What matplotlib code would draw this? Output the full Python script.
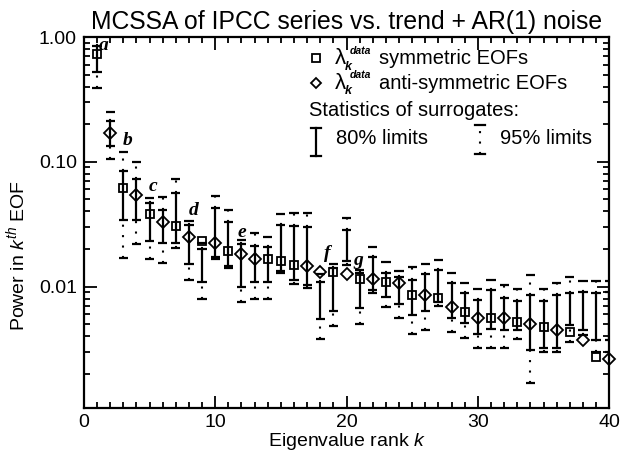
import numpy as np
import matplotlib
matplotlib.use('Agg')
import matplotlib.pyplot as plt
from matplotlib.ticker import MultipleLocator, LogLocator, FuncFormatter, NullFormatter

plt.rcParams['font.family'] = ['Liberation Sans', 'DejaVu Sans']
plt.rcParams['mathtext.fontset'] = 'custom'
plt.rcParams['mathtext.rm'] = 'Liberation Sans'
plt.rcParams['mathtext.it'] = 'Liberation Sans:italic'
plt.rcParams['mathtext.bf'] = 'Liberation Sans:bold'

# eigenvalue rank
rank = np.arange(1, 41)
# marker type: 's' symmetric EOF, 'D' anti-symmetric EOF
kind = ['s', 'D', 's', 'D', 's', 'D', 's', 'D', 's', 'D',
        's', 'D', 'D', 's', 's', 's', 'D', 'D', 's', 'D',
        's', 'D', 's', 'D', 's', 'D', 's', 'D', 's', 'D',
        's', 'D', 's', 'D', 's', 'D', 's', 'D', 's', 'D']
power = [0.73, 0.171, 0.062, 0.054, 0.038, 0.0327, 0.0308, 0.0251, 0.023, 0.0222,
         0.0192, 0.0182, 0.0166, 0.0166, 0.0161, 0.0150, 0.0147, 0.0130, 0.0130, 0.0126,
         0.0115, 0.0115, 0.0108, 0.0106, 0.0085, 0.0086, 0.0081, 0.0068, 0.0062, 0.0056,
         0.0056, 0.0056, 0.0052, 0.0050, 0.0047, 0.0045, 0.0043, 0.0037, 0.0027, 0.0026]
lo80 = [0.52, 0.134, 0.034, 0.034, 0.023, 0.0222, 0.0225, 0.0152, 0.0108, 0.0172,
        0.0147, 0.0099, 0.0108, 0.0108, 0.0132, 0.0112, 0.0102, 0.0055, 0.0064, 0.0161,
        0.0067, 0.0093, 0.0082, 0.0073, 0.0059, 0.0064, 0.0075, 0.0056, 0.0051, 0.0042,
        0.0046, 0.0045, 0.0045, 0.0031, 0.0032, 0.0032, 0.0049, 0.0045, 0.0037, 0.0037]
hi80 = [0.85, 0.213, 0.085, 0.073, 0.047, 0.041, 0.0558, 0.031, 0.0201, 0.0426,
        0.0327, 0.022, 0.0213, 0.0206, 0.0313, 0.0308, 0.0298, 0.0108, 0.0141, 0.0284,
        0.0128, 0.0172, 0.0128, 0.0120, 0.0112, 0.0126, 0.0136, 0.0106, 0.0088, 0.0078,
        0.0093, 0.0081, 0.0076, 0.0085, 0.0077, 0.0085, 0.0088, 0.0090, 0.0088, 0.0090]
lo95 = [0.39, 0.105, 0.017, 0.022, 0.0166, 0.0154, 0.0205, 0.0112, 0.0079, 0.0165,
        0.0142, 0.0075, 0.0080, 0.0080, 0.0128, 0.0105, 0.0098, 0.0038, 0.0048, 0.0150,
        0.0050, 0.0089, 0.0068, 0.0056, 0.0042, 0.0045, 0.0070, 0.0043, 0.0039, 0.0032,
        0.0032, 0.0032, 0.0038, 0.0017, 0.0030, 0.0030, 0.0036, 0.0041, 0.0030, 0.0030]
hi95 = [1.10, 0.252, 0.120, 0.100, 0.0515, 0.0518, 0.0727, 0.0335, 0.0225, 0.0535,
        0.041, 0.0235, 0.0267, 0.0251, 0.0381, 0.0386, 0.0386, 0.0125, 0.0152, 0.0355,
        0.0135, 0.0206, 0.0156, 0.0134, 0.0143, 0.0152, 0.0164, 0.0129, 0.0107, 0.0096,
        0.0113, 0.0102, 0.0095, 0.0123, 0.0096, 0.0106, 0.0119, 0.0110, 0.0110, 0.0110]
# letter annotations
letters = ['a', 'b', 'c', 'd', 'e', 'f', 'g']
letter_x = [1.5, 3.35, 5.3, 8.35, 12.0, 18.5, 20.9]
letter_y = [0.85, 0.147, 0.063, 0.041, 0.0272, 0.0185, 0.0161]

fig = plt.figure(figsize=(6.21, 4.57), dpi=100)
ax = fig.add_axes([0.135, 0.107, 0.846, 0.812])
ax.set_yscale('log')

cap = 0.35
lw = 1.6
ax.vlines(rank, lo80, hi80, colors='k', lw=lw)
ax.hlines(lo80, rank - cap, rank + cap, colors='k', lw=lw)
ax.hlines(hi80, rank - cap, rank + cap, colors='k', lw=lw)
ax.vlines(rank, hi80, hi95, colors='k', lw=1.5, linestyles=(0, (1, 4)))
ax.vlines(rank, lo95, lo80, colors='k', lw=1.5, linestyles=(0, (1, 4)))
ax.hlines(lo95, rank - cap, rank + cap, colors='k', lw=lw)
ax.hlines(hi95, rank - cap, rank + cap, colors='k', lw=lw)

for k, p, m in zip(rank, power, kind):
    ax.plot(k, p, marker=m, ms=6 if m == 's' else 6.3, mfc='none', mec='k', mew=1.3,
            ls='none', clip_on=False)

for t, x, y in zip(letters, letter_x, letter_y):
    ax.text(x, y, t, family='Liberation Serif', style='italic', weight='bold',
            fontsize=14, ha='center', va='center')

ax.set_xlim(0, 40)
ax.set_ylim(0.00106, 1.0)
ax.xaxis.set_major_locator(MultipleLocator(10))
ax.xaxis.set_minor_locator(MultipleLocator(1))
ax.yaxis.set_major_locator(LogLocator(base=10))
ax.yaxis.set_minor_locator(LogLocator(base=10, subs=np.arange(2, 10)))
ax.yaxis.set_major_formatter(FuncFormatter(lambda v, pos: '%.2f' % v))
ax.yaxis.set_minor_formatter(NullFormatter())
ax.tick_params(which='both', direction='in', top=True, right=True, width=1.3,
               labelsize=14, colors='k')
ax.tick_params(which='major', length=9)
ax.tick_params(which='minor', length=4.5)
ax.tick_params(axis='x', which='major', pad=4)
ax.tick_params(axis='y', which='major', pad=5)
for s in ax.spines.values():
    s.set_linewidth(1.6)

ax.set_title('MCSSA of IPCC series vs. trend + AR(1) noise', fontsize=17.8, pad=6)
ax.set_xlabel(r'Eigenvalue rank $\mathbf{\mathit{k}}$', fontsize=14, labelpad=0)
ax.set_ylabel(r'Power in $\mathit{k}^{th}$ EOF', fontsize=14)
ax.yaxis.set_label_coords(-0.106, 0.41)

# hand-drawn legend box contents
tr = ax.transAxes
ax.plot(0.442, 0.943, 's', ms=5.5, mfc='none', mec='k', mew=1.3, transform=tr)
ax.plot(0.442, 0.876, 'D', ms=5.5, mfc='none', mec='k', mew=1.3, transform=tr)
for yy, words in [(0.943, 'symmetric EOFs'), (0.876, 'anti-symmetric EOFs')]:
    ax.annotate('\u03bb', (0.477, yy), xycoords=tr, fontsize=16, va='center', ha='left')
    ax.annotate('k', (0.477, yy), xycoords=tr, xytext=(7.5, -6), textcoords='offset points',
                fontsize=9, style='italic', weight='bold', va='center', ha='left')
    ax.annotate('data', (0.477, yy), xycoords=tr, xytext=(11, 5.5), textcoords='offset points',
                fontsize=7.5, style='italic', weight='bold', va='center', ha='left')
    ax.text(0.562, yy, words, transform=tr, fontsize=14.5, va='center')
ax.text(0.428, 0.803, 'Statistics of surrogates:', transform=tr, fontsize=14.5, va='center')
ax.plot([0.442, 0.442], [0.679, 0.755], color='k', lw=lw, transform=tr)
ax.plot([0.432, 0.452], [0.755, 0.755], color='k', lw=lw, transform=tr)
ax.plot([0.432, 0.452], [0.679, 0.679], color='k', lw=lw, transform=tr)
ax.text(0.48, 0.726, '80% limits', transform=tr, fontsize=14.5, va='center')
ax.plot([0.754, 0.754], [0.685, 0.763], color='k', lw=1.5, ls=(0, (1, 4)), transform=tr)
ax.plot([0.744, 0.764], [0.763, 0.763], color='k', lw=lw, transform=tr)
ax.plot([0.744, 0.764], [0.685, 0.685], color='k', lw=lw, transform=tr)
ax.text(0.792, 0.726, '95% limits', transform=tr, fontsize=14.5, va='center')

fig.savefig('out.png', dpi=100)
